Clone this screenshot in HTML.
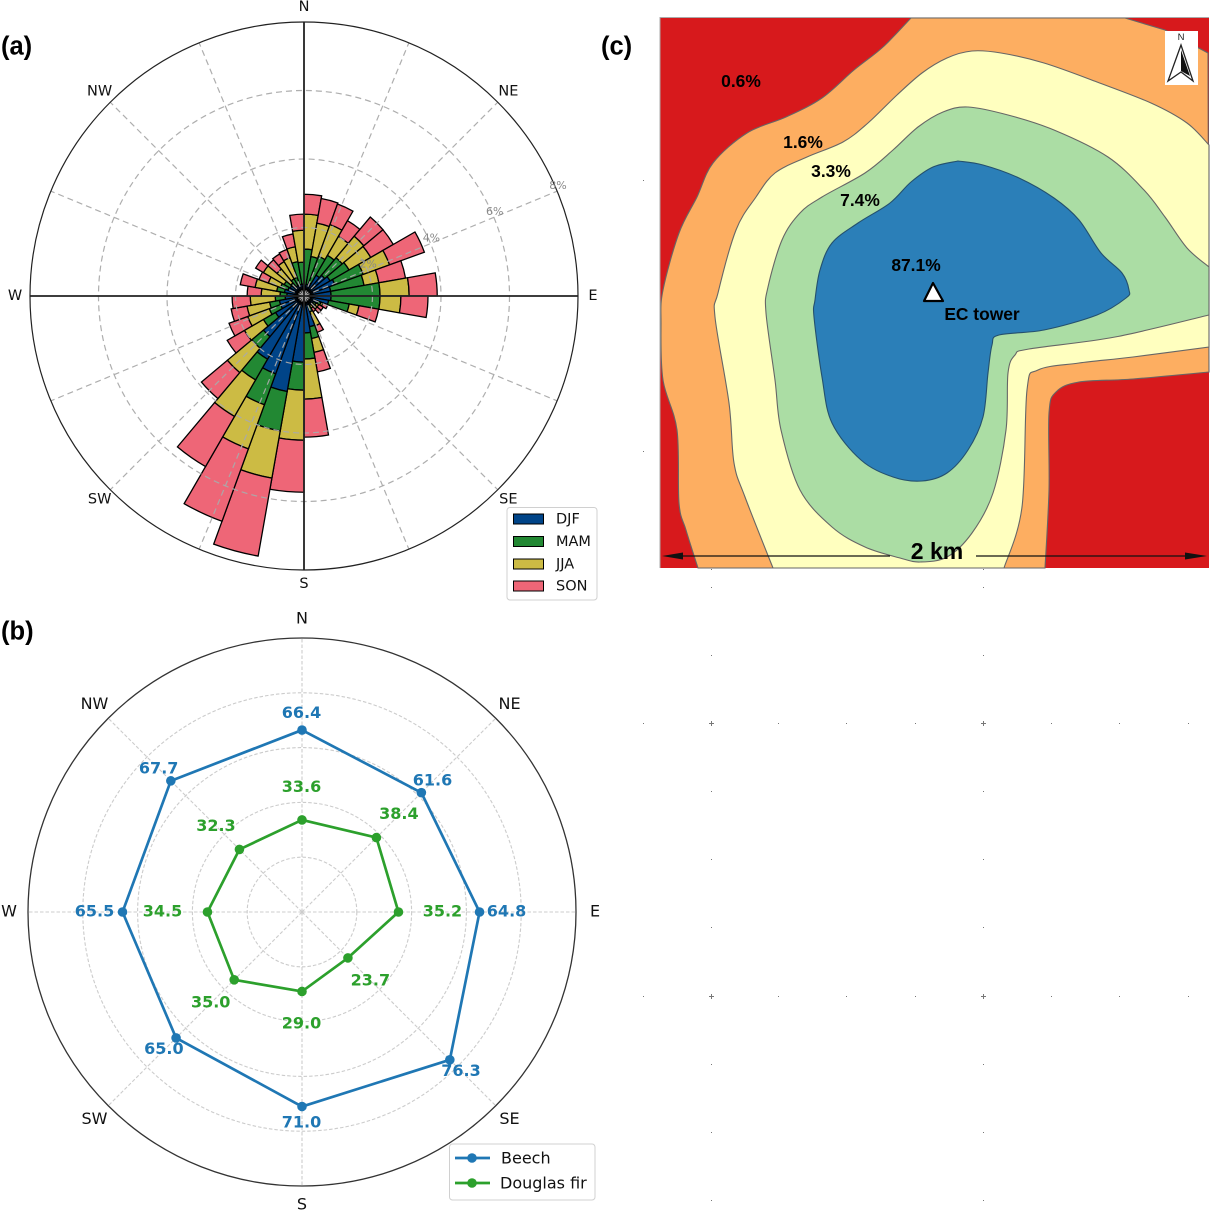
<!DOCTYPE html>
<html lang="en">
<head>
<meta charset="utf-8">
<title>Wind rose, beech and Douglas fir radar chart, footprint map</title>
<style>
html,body{margin:0;padding:0;background:#fff;}
svg{display:block;}
text{font-family:"DejaVu Sans",sans-serif;}
.panel{font-family:"Liberation Sans",sans-serif;font-weight:bold;font-size:25.500px;fill:#000;}
.map-label{font-family:"Liberation Sans",sans-serif;font-weight:bold;font-size:17.400px;fill:#000;text-anchor:middle;dominant-baseline:central;}
.dir-a{font-size:14.5px;fill:#111;text-anchor:middle;dominant-baseline:central;}
.dir-b{font-size:16px;fill:#111;text-anchor:middle;dominant-baseline:central;}
.leg-a{font-size:14.5px;fill:#111;dominant-baseline:central;}
.leg-b{font-size:16px;fill:#111;dominant-baseline:central;}
</style>
</head>
<body>
<svg id="root" xmlns="http://www.w3.org/2000/svg" width="1210" height="1210" viewBox="0 0 1210 1210">
  <rect x="0" y="0" width="1210" height="1210" fill="#fff"/>

  <text class="panel" x="1" y="54.500">(a)</text>
  <text class="panel" x="1" y="639.500">(b)</text>
  <text class="panel" x="601" y="54.500">(c)</text>

  <g id="rose"></g>
  <g id="radar"></g>
  <g id="map"></g>
  <g id="dots"></g>

  <g>
    <rect x="507" y="507.500" width="90" height="92.500" rx="3" fill="#fff" stroke="#d0d0d0"/>
    <rect x="513.500" y="514" width="30" height="10" fill="#004488" stroke="#000"/>
    <text class="leg-a" x="556" y="519.500">DJF</text>
    <rect x="513.500" y="536.500" width="30" height="10" fill="#228833" stroke="#000"/>
    <text class="leg-a" x="556" y="542">MAM</text>
    <rect x="513.500" y="559" width="30" height="10" fill="#CCBB44" stroke="#000"/>
    <text class="leg-a" x="556" y="564.500">JJA</text>
    <rect x="513.500" y="581" width="30" height="10" fill="#EE6677" stroke="#000"/>
    <text class="leg-a" x="556" y="586.500">SON</text>
  </g>

  <g>
    <rect x="449.500" y="1144" width="145.500" height="56" rx="3" fill="#fff" stroke="#d0d0d0"/>
    <line x1="455" x2="490" y1="1158" y2="1158" stroke="#1f77b4" stroke-width="2.700"/>
    <circle cx="472" cy="1158" r="4.800" fill="#1f77b4"/>
    <text class="leg-b" x="501" y="1158">Beech</text>
    <line x1="455" x2="490" y1="1183" y2="1183" stroke="#2ca02c" stroke-width="2.700"/>
    <circle cx="472" cy="1183" r="4.800" fill="#2ca02c"/>
    <text class="leg-b" x="500" y="1183">Douglas fir</text>
  </g>
</svg>

<script>
/* ---------- Wind rose data (percent frequency per 10 degree sector, clockwise from N) ---------- */
const roseSeasons = ['DJF', 'MAM', 'JJA', 'SON'];
const roseDJF = [.29,.35,.41,.70,.79,.88,.96,.79,.79,.79,.73,.44,.32,.29,.26,.29,.91,1.08,1.93,2.83,2.42,2.13,1.55,.96,.73,.73,.55,.50,.58,.50,.47,.35,.35,.35,.35,.35];
const roseMAM = [1.08,.82,.82,.67,.67,.64,.88,.99,1.43,1.43,.61,.09,.09,.09,.06,.20,.35,.76,.82,1.17,.96,.70,.44,.41,.35,.29,.29,.20,.23,.23,.20,.15,.23,.23,.67,.64];
const roseJJA = [1.02,.99,.99,.64,.82,.73,.82,.44,.85,.61,.29,.06,.09,.12,.09,.44,.41,1.17,1.46,1.40,1.37,1.23,.93,.64,.67,.67,.73,.55,.64,.38,.70,.53,.58,.61,.44,.93];
const roseSON = [.58,.73,.64,.53,.73,.76,1.08,.79,.82,.79,.58,.15,.15,.15,.12,.20,.58,1.11,1.52,2.31,2.25,1.69,.99,.58,.58,.47,.53,.41,.44,.29,.26,.35,.26,.26,.38,.47];
const roseRingTicks = [2, 4, 6, 8];
const roseDirections = ['N','NE','E','SE','S','SW','W','NW'];

/* ---------- Radar data ---------- */
const radarDirections = ['N','NE','E','SE','S','SW','W','NW'];
const beechValues = [66.4, 61.6, 64.8, 76.3, 71.0, 65.0, 65.5, 67.7];
const douglasValues = [33.6, 38.4, 35.2, 23.7, 29.0, 35.0, 34.5, 32.3];
const radarRingTicks = [20, 40, 60, 80];
const radarMax = 100;

const NS = 'http://www.w3.org/2000/svg';
function mk(tag, attrs, parent, txt) {
  const el = document.createElementNS(NS, tag);
  for (const k in attrs) el.setAttribute(k, attrs[k]);
  if (txt !== undefined) el.textContent = txt;
  parent.appendChild(el);
  return el;
}
function pol(cx, cy, r, deg) {
  const a = deg * Math.PI / 180;
  return [cx + r * Math.sin(a), cy - r * Math.cos(a)];
}

/* ---------- Wind rose ---------- */
(function () {
  const g = document.getElementById('rose');
  const cx = 304, cy = 296, R = 274, maxPct = 8;
  const rScale = v => v / maxPct * R;
  const colors = ['#004488', '#228833', '#CCBB44', '#EE6677'];
  const series = [roseDJF, roseMAM, roseJJA, roseSON];
  const sectorWidth = 360 / roseDJF.length;

  const bg = mk('circle', {cx, cy, r: R, fill: '#fff', stroke: 'none'}, g);
  
  

  roseDJF.forEach((_, i) => {
    let base = 0;
    const a0 = i * sectorWidth, a1 = (i + 1) * sectorWidth;
    series.forEach((s, k) => {
      const r0 = rScale(base), r1 = rScale(base + s[i]);
      const p0 = pol(cx, cy, r0, a0), p1 = pol(cx, cy, r1, a0), p2 = pol(cx, cy, r1, a1), p3 = pol(cx, cy, r0, a1);
      const d = `M${p0}L${p1}A${r1} ${r1} 0 0 1 ${p2}L${p3}A${r0} ${r0} 0 0 0 ${p0}Z`;
      const bar = mk('path', {d, fill: colors[k], stroke: '#000', 'stroke-width': 1.3, 'stroke-linejoin': 'miter'}, g);
      
      
      base += s[i];
    });
  });

  roseRingTicks.slice(0, -1).forEach(t => {
    const ring = mk('circle', {cx, cy, r: rScale(t), fill: 'none', stroke: '#aaa', 'stroke-width': 1.2, 'stroke-dasharray': '6 4', opacity: .95}, g);
    
    
  });
  for (let i = 0; i < 16; i++) {
    if (i % 4 === 0) continue;
    const e = pol(cx, cy, R, i * 22.5);
    const sp = mk('line', {x1: cx, y1: cy, x2: e[0], y2: e[1], stroke: '#aaa', 'stroke-width': 1.2, 'stroke-dasharray': '6 4', opacity: .95}, g);
    
    
  }
  for (let i = 0; i < 4; i++) {
    const e = pol(cx, cy, R, i * 90);
    const ax = mk('line', {x1: cx, y1: cy, x2: e[0], y2: e[1], stroke: '#222', 'stroke-width': 1.8}, g);
    
    
  }
  const outer = mk('circle', {cx, cy, r: R, fill: 'none', stroke: '#222', 'stroke-width': 1.2}, g);
  
  

  roseRingTicks.forEach(t => {
    const p = pol(cx, cy, rScale(t) + 2, 67.5);
    const lab = mk('text', {x: p[0] - 1, y: p[1] - 5, 'font-size': 11, fill: '#888', 'text-anchor': 'middle', 'dominant-baseline': 'central'}, g, t + '%');
    
    
  });
  roseDirections.forEach((d, i) => {
    const diag = i % 2 === 1;
    const p = pol(cx, cy, diag ? R + 15 : R + 15, i * 45);
    const top = i === 1 || i === 7;
    const lab = mk('text', {x: p[0], y: p[1] + (top ? 0 : 0) + (i === 0 ? 0 : 0) + (diag && !top ? -1 : 0) + (i === 4 ? -1 : 0), class: 'dir-a'}, g, d);
    
    
  });
})();

/* ---------- Radar ---------- */
(function () {
  const g = document.getElementById('radar');
  const cx = 302, cy = 912, R = 274;
  const rScale = v => v / radarMax * R;
  const step = 360 / radarDirections.length;

  radarRingTicks.forEach(t => {
    const ring = mk('circle', {cx, cy, r: rScale(t), fill: 'none', stroke: '#ccc', 'stroke-width': 1.1, 'stroke-dasharray': '3.500 2'}, g);
    
    
  });
  radarDirections.forEach((d, i) => {
    const e = pol(cx, cy, R, i * step);
    const sp = mk('line', {x1: cx, y1: cy, x2: e[0], y2: e[1], stroke: '#ccc', 'stroke-width': 1.1, 'stroke-dasharray': '3.500 2'}, g);
    
    
  });
  const outer = mk('circle', {cx, cy, r: R, fill: 'none', stroke: '#333', 'stroke-width': 1.3}, g);
  
  

  function drawSeries(values, color, slug, nearBase, sideExtra) {
    const pts = values.map((v, i) => pol(cx, cy, rScale(v), i * step));
    const poly = mk('polygon', {points: pts.map(p => p.join(',')).join(' '), fill: 'none', stroke: color, 'stroke-width': 2.7, 'stroke-linejoin': 'round'}, g);
    
    
    values.forEach((v, i) => {
      const dot = mk('circle', {cx: pts[i][0], cy: pts[i][1], r: 4.8, fill: color}, g);
      
      
      const side = i === 2 || i === 6;
      const q = pol(pts[i][0], pts[i][1], nearBase + (side ? sideExtra : 0), i * step);
      const lab = mk('text', {x: q[0] - 0.5, y: q[1] - 1, 'font-size': 16, 'font-weight': 'bold', fill: color, 'text-anchor': 'middle', 'dominant-baseline': 'central'}, g, v.toFixed(1));
      
      
    });
  }
  drawSeries(beechValues, '#1f77b4', 'beech', 16.5, 11);
  drawSeries(douglasValues, '#2ca02c', 'douglas-fir', 32.5, 12);

  radarDirections.forEach((d, i) => {
    const p = pol(cx, cy, i % 2 === 1 ? R + 19.500 : R + 19, i * step);
    const lab = mk('text', {x: p[0], y: p[1] - 1, class: 'dir-b'}, g, d);
    
    
  });
})();

/* ---------- Footprint map ---------- */
(function () {
  const g = document.getElementById('map');
  function smooth(pts, move) {
    let d = (move ? 'M' : 'L') + pts[0][0] + ' ' + pts[0][1];
    for (let i = 0; i < pts.length - 1; i++) {
      const p0 = pts[Math.max(0, i - 1)], p1 = pts[i], p2 = pts[i + 1], p3 = pts[Math.min(pts.length - 1, i + 2)];
      const c1 = [p1[0] + (p2[0] - p0[0]) / 6, p1[1] + (p2[1] - p0[1]) / 6];
      const c2 = [p2[0] - (p3[0] - p1[0]) / 6, p2[1] - (p3[1] - p1[1]) / 6];
      d += `C${c1[0].toFixed(1)} ${c1[1].toFixed(1)} ${c2[0].toFixed(1)} ${c2[1].toFixed(1)} ${p2[0]} ${p2[1]}`;
    }
    return d;
  }
  const bg = mk('rect', {x: 660, y: 17, width: 549, height: 551, fill: '#d7191c'}, g);
  
  

  const orangeLeft = [[911,18],[883,47],[854,70],[822,98],[786,117],[747,133],[713,163],[697,197],[679,233],[663,290],[661,323],[663,380],[677,430],[679,503],[686,530],[698,568]];
  const orangeRight = [[1045,568],[1049,490],[1049,413],[1056,392],[1079,382],[1133,379],[1209,372]];
  const orangeD = smooth(orangeLeft, true) + smooth(orangeRight, false) + 'L1208 53L1165 30L1125 18Z';
  const orange = mk('path', {d: orangeD, fill: '#fdae61', stroke: '#666', 'stroke-width': 1.1}, g);
  
  

  const yellowTop = [[1209,145],[1187,123],[1151,103],[1097,82],[1044,63],[1001,53],[972,51],[947,58],[922,73],[897,95],[868,123],[843,142],[807,157],[775,173],[756,197],[736,230],[718,293],[715,317],[729,403],[734,463],[745,497],[773,568]];
  const yellowRight = [[1004,568],[1022,507],[1027,390],[1038,370],[1079,363],[1133,357],[1209,347]];
  const yellow = mk('path', {d: smooth(yellowTop, true) + smooth(yellowRight, false) + 'Z', fill: '#ffffbf', stroke: '#666', 'stroke-width': 1.1}, g);
  
  

  const greenLine = [[1209,267],[1187,248],[1165,217],[1144,190],[1108,157],[1054,130],[1008,115],[968,107],[943,112],[918,127],[893,150],[865,173],[822,197],[800,213],[782,240],[768,287],[766,313],[775,380],[781,430],[800,490],[832,527],[865,547],[900,558],[920,562],[947,557],[972,533],[993,493],[1006,430],[1008,373],[1015,355],[1029,349],[1115,337],[1209,315]];
  const green = mk('path', {d: smooth(greenLine, true) + 'Z', fill: '#abdda4', stroke: '#666', 'stroke-width': 1.1}, g);
  
  

  const blueLine = [[958,161],[933,167],[911,182],[890,203],[858,223],[832,243],[820,270],[815,300],[814,317],[822,377],[832,423],[861,460],[893,477],[922,481],[947,473],[968,450],[983,417],[988,373],[992,345],[999,335],[1044,330],[1097,315],[1126,298],[1129,290],[1122,273],[1101,253],[1079,220],[1054,198],[1019,178],[983,165],[958,161]];
  const blue = mk('path', {d: smooth(blueLine, true) + 'Z', fill: '#2b7fb8', stroke: '#24506e', 'stroke-width': 1.1}, g);
  
  

  const frame = mk('path', {d: 'M660 568V17.500H1209', fill: 'none', stroke: '#aaa', 'stroke-width': 1}, g);
  
  

  const mapLabels = [['0.6%',741,81],['1.6%',803,142],['3.3%',831,171],['7.4%',860,200],['87.1%',916,265],['EC tower',982,314]];
  mapLabels.forEach(l => {
    const t = mk('text', {x: l[1], y: l[2], class: 'map-label'}, g, l[0]);
    
    
  });

  const tower = mk('polygon', {points: '933,283 924,301 943,301', fill: '#fff', stroke: '#000', 'stroke-width': 2.2, 'stroke-linejoin': 'round'}, g);
  
  

  const s1 = mk('line', {x1: 670, y1: 556, x2: 890, y2: 556, stroke: '#111', 'stroke-width': 1.3}, g);
  
  
  const s2 = mk('line', {x1: 976, y1: 556, x2: 1195, y2: 556, stroke: '#111', 'stroke-width': 1.3}, g);
  
  
  const h1 = mk('polygon', {points: '662,556 683,552.500 683,559.500', fill: '#111'}, g);
  
  
  const h2 = mk('polygon', {points: '1207,556 1185,552.500 1185,559.500', fill: '#111'}, g);
  
  
  const km = mk('text', {x: 937, y: 551, class: 'map-label', style: 'font-size:23px'}, g, '2 km');
  
  

  const box = mk('rect', {x: 1165, y: 31, width: 33, height: 54, fill: '#fff'}, g);
  
  
  const nt = mk('text', {x: 1181, y: 37.500, 'font-size': 9.500, fill: '#222', 'text-anchor': 'middle', 'dominant-baseline': 'central', style: 'font-family:\'Liberation Sans\',sans-serif'}, g, 'N');
  
  
  const n1 = mk('polygon', {points: '1181,45 1168,81 1181,72 1193,81', fill: '#fff', stroke: '#222', 'stroke-width': 1.3}, g);
  
  
  const n2 = mk('polygon', {points: '1181,50 1181,71 1190,76', fill: '#111'}, g);
  
  
})();

/* ---------- Stray tick dots ---------- */
(function () {
  const g = document.getElementById('dots');
  const colX = [711, 983];
  const colY = [569, 587, 655, 791, 859, 927, 1064, 1132, 1200];
  const rowY = [723, 996];
  const rowX = [643, 711, 778, 846, 915, 983, 1051, 1119, 1188];
  function dot(x, y, s) {
    const d = mk('rect', {x: Math.round(x - s / 2), y: Math.round(y - s / 2), width: s, height: s, fill: '#777'}, g);
    
    
  }
  function plus(x, y) {
    const h = mk('path', {d: `M${x - 2} ${y + .5}H${x + 3}M${x + .5} ${y - 2}V${y + 3}`, stroke: '#777', 'stroke-width': 1, fill: 'none'}, g);
    
    
  }
  colX.forEach(x => colY.forEach(y => dot(x, y, 1)));
  rowY.forEach(y => rowX.forEach(x => { if (x === 711 || x === 983) plus(x, y); else dot(x, y, 1); }));
  dot(643, 180, 1);
  dot(643, 451, 1);
})();
</script>
</body>
</html>
